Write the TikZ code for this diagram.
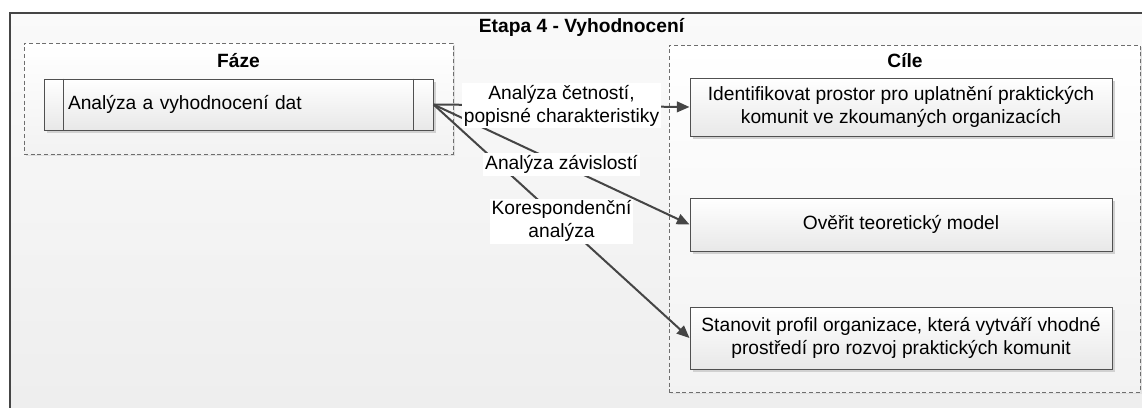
\documentclass[tikz,border=0pt]{standalone}
\usepackage{fontspec}
\setmainfont{Liberation Sans}
\usetikzlibrary{arrows.meta,shadows}
\definecolor{linegray}{HTML}{454545}
\definecolor{framegray}{HTML}{505050}
\definecolor{dashgray}{HTML}{6E6E6E}
\tikzset{
  base/.style={font=\fontsize{14.4}{17.5}\selectfont},
  groupbox/.style={draw=dashgray, line width=0.75pt, dash pattern=on 3pt off 2pt,
    top color=white, bottom color=black!5,
    drop shadow={shadow xshift=1.5pt, shadow yshift=-1.5pt, fill=black!12, opacity=1},
    inner sep=0pt},
  goalbox/.style={base, draw=framegray, line width=0.75pt, top color=white, bottom color=black!9,
    drop shadow={shadow xshift=2pt, shadow yshift=-2pt, fill=black!18, opacity=1},
    minimum width=316.5pt, align=center, inner sep=0pt},
  procbox/.style={base, draw=framegray, line width=0.75pt, top color=white, bottom color=black!9,
    drop shadow={shadow xshift=2pt, shadow yshift=-2pt, fill=black!18, opacity=1},
    minimum width=291.75pt, minimum height=38.25pt, inner xsep=18pt, inner ysep=0pt,
    text width=255.75pt, align=left},
  grouptitle/.style={base, font=\fontsize{14.4}{17.5}\selectfont\bfseries},
  flow/.style={draw=linegray, line width=1.5pt, -{Triangle[length=9.5pt,width=8pt]}},
  flowlabel/.style={base, fill=white, inner sep=1.5pt, align=center, pos=0.5}
}
\begin{document}
\begin{tikzpicture}[x=0.75pt, y=-0.75pt]
  \useasboundingbox (0,0) rectangle (1142,407);
  \clip (0,0) rectangle (1142,407);
  % stage frame
  \fill[white] (0,0) rectangle (1142,407);
  \shade[top color=black!2, bottom color=black!7] (10,13) rectangle (1170,430);
  \draw[draw=linegray, line width=1.1pt] (1170,13) -- (10,13) -- (10,430);
  \node[grouptitle] (stage) at (581.5,27) {Etapa 4 - Vyhodnocení};

  % phase group
  \node[groupbox, minimum width=321.75pt, minimum height=83.25pt] (phases) at (238.5,98.5) {};
  \node[grouptitle] (phasetitle) at (238.5,61) {Fáze};
  \node[procbox] (proc) at (238.5,104.5) {Analýza a vyhodnocení dat};
  \draw[draw=framegray, line width=0.75pt] ([xshift=15pt]proc.north west) -- ([xshift=15pt]proc.south west);
  \draw[draw=framegray, line width=0.75pt] ([xshift=-15pt]proc.north east) -- ([xshift=-15pt]proc.south east);

  % goals group
  \node[groupbox, minimum width=353.25pt, minimum height=260.25pt] (goals) at (904.5,218.5) {};
  \node[grouptitle] (goaltitle) at (905,61) {Cíle};
  \node[goalbox, minimum height=43.5pt] (g1) at (901,107)
    {Identifikovat prostor pro uplatnění praktických\\komunit ve zkoumaných organizacích};
  \node[goalbox, minimum height=39.75pt] (g2) at (901,224.5) {Ověřit teoretický model};
  \node[goalbox, minimum height=46.5pt] (g3) at (901,338)
    {Stanovit profil organizace, která vytváří vhodné\\prostředí pro rozvoj praktických komunit};

  % methods: connectors first, their labels on top of all of them
  \draw[flow] (proc.east) -- (g1.west);
  \draw[flow] (proc.east) -- (g2.west);
  \draw[flow] (proc.east) -- (g3.west);
  \path (proc.east) -- node[flowlabel] (m1) {Analýza četností,\\popisné charakteristiky} (g1.west);
  \path (proc.east) -- node[flowlabel] (m2) {Analýza závislostí} (g2.west);
  \path (proc.east) -- node[flowlabel] (m3) {Korespondenční\\analýza} (g3.west);
\end{tikzpicture}
\end{document}
